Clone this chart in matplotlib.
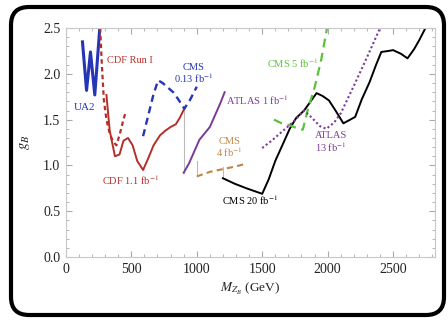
import matplotlib
matplotlib.use("Agg")
import matplotlib.pyplot as plt
from matplotlib.patches import FancyBboxPatch
from matplotlib.transforms import IdentityTransform
from matplotlib.ticker import MultipleLocator

plt.rcParams['font.family'] = ['Liberation Serif', 'DejaVu Serif']
plt.rcParams['mathtext.fontset'] = 'stix'

# limits on the baryonic Z_B coupling vs mass
ua2_m = [127, 158, 188, 221, 259]
ua2_g = [2.35, 1.82, 2.24, 1.77, 2.5]

cdf1_m = [262, 275, 290, 310, 335, 360, 387, 415, 440, 458]
cdf1_g = [2.5, 2.1, 1.72, 1.5, 1.35, 1.26, 1.22, 1.36, 1.5, 1.59]

cdf11_m = [310, 335, 375, 410, 440, 475, 510, 545, 590, 630, 670, 720, 760, 800, 840, 870, 905]
cdf11_g = [1.77, 1.38, 1.10, 1.12, 1.27, 1.30, 1.22, 1.05, 0.95, 1.08, 1.22, 1.33, 1.38, 1.42, 1.45, 1.52, 1.62]

cms013_m = [590, 630, 670, 705, 740, 780, 820, 860, 905, 950, 1000]
cms013_g = [1.32, 1.55, 1.78, 1.93, 1.90, 1.85, 1.80, 1.72, 1.62, 1.72, 1.86]

atlas1_m = [900, 940, 980, 1020, 1060, 1100, 1140, 1180, 1213]
atlas1_g = [0.92, 1.02, 1.15, 1.28, 1.35, 1.42, 1.55, 1.68, 1.80]

cms4_m = [1000, 1100, 1200, 1300, 1380]
cms4_g = [0.88, 0.93, 0.96, 0.99, 1.02]

cms20_m = [1200, 1290, 1380, 1500, 1550, 1600, 1660, 1710, 1760, 1820, 1870, 1915, 1960, 2010,
           2060, 2120, 2210, 2260, 2320, 2370, 2410, 2460, 2500, 2560, 2610, 2660, 2700, 2750]
cms20_g = [0.86, 0.80, 0.75, 0.69, 0.85, 1.05, 1.24, 1.40, 1.52, 1.60, 1.70, 1.79, 1.76, 1.71,
           1.60, 1.46, 1.53, 1.72, 1.91, 2.10, 2.24, 2.25, 2.26, 2.22, 2.17, 2.27, 2.37, 2.51]

cms5_m = [1590, 1650, 1710, 1760, 1810, 1850, 1900, 1950, 1995]
cms5_g = [1.50, 1.46, 1.44, 1.41, 1.39, 1.62, 1.85, 2.15, 2.5]

atlas13_m = [1500, 1580, 1660, 1740, 1820, 1880, 1940, 1990, 2050, 2100, 2200, 2300, 2400]
atlas13_g = [1.19, 1.28, 1.38, 1.48, 1.60, 1.52, 1.43, 1.40, 1.47, 1.57, 1.87, 2.18, 2.5]

# thin connectors where one limit hands over to the next
join_m = [905, 1000, 1200]
join_top = [1.62, 1.05, 0.98]
join_bot = [0.92, 0.88, 0.86]

blue = '#2535b5'
red = '#b3302a'
purple = '#7b3a98'
brown = '#c08545'
green = '#5cc23a'

fig = plt.figure(figsize=(4.48, 3.2), dpi=100)

# rounded black frame (pixel units), kept behind the axes
frame = FancyBboxPatch((11, 5), 433, 308, boxstyle="round,pad=0,rounding_size=18",
                       transform=IdentityTransform(), facecolor='white', edgecolor='black',
                       lw=3.0, zorder=-9)
fig.patches.append(frame)

ax = fig.add_axes([0.147, 0.197, 0.824, 0.715])
ax.set_facecolor('none')

for m, top, bot in zip(join_m, join_top, join_bot):
    ax.plot([m, m], [bot, top], color='#bbbbbb', lw=0.8)

ax.plot(ua2_m, ua2_g, color=blue, lw=2.2)
ax.plot(cdf1_m, cdf1_g, color=red, lw=1.6, dashes=(2, 1.5))
ax.plot(cdf11_m, cdf11_g, color=red, lw=1.4)
ax.plot(cms013_m, cms013_g, color=blue, lw=1.7, dashes=(3, 2))
ax.plot(atlas1_m, atlas1_g, color=purple, lw=1.4)
ax.plot(cms4_m, cms4_g, color=brown, lw=1.5, dashes=(3, 2))
ax.plot(cms20_m, cms20_g, color='black', lw=1.4)
ax.plot(cms5_m, cms5_g, color=green, lw=1.6, dashes=(4, 2.5))
ax.plot(atlas13_m, atlas13_g, color=purple, lw=1.5, dashes=(1, 1.2))

fs = 7.5
ax.text(145, 1.63, 'UA2', color=blue, fontsize=fs + 0.5, ha='center', va='center')
ax.text(313, 2.15, 'CDF Run I', color=red, fontsize=fs, ha='left', va='center')
ax.text(975, 2.0, 'CMS\n0.13 fb$^{-1}$', color=blue, fontsize=fs, ha='center', va='center',
        linespacing=1.0)
ax.text(1220, 1.71, 'ATLAS 1 fb$^{-1}$', color=purple, fontsize=fs, ha='left', va='center')
ax.text(1250, 1.19, 'CMS\n4 fb$^{-1}$', color=brown, fontsize=fs, ha='center', va='center',
        linespacing=1.0)
ax.text(1404, 0.62, 'CMS 20 fb$^{-1}$', color='black', fontsize=fs, ha='center', va='center')
ax.text(496, 0.84, 'CDF 1.1 fb$^{-1}$', color=red, fontsize=fs, ha='center', va='center')
ax.text(1732, 2.12, 'CMS 5 fb$^{-1}$', color=green, fontsize=fs, ha='center', va='center')
ax.text(2022, 1.25, 'ATLAS\n13 fb$^{-1}$', color=purple, fontsize=fs, ha='center', va='center',
        linespacing=1.0)

ax.set_xlim(0, 2820)
ax.set_ylim(0, 2.5)
ax.xaxis.set_major_locator(MultipleLocator(500))
ax.xaxis.set_minor_locator(MultipleLocator(100))
ax.yaxis.set_major_locator(MultipleLocator(0.5))
ax.yaxis.set_minor_locator(MultipleLocator(0.1))
ax.yaxis.set_major_formatter(plt.FormatStrFormatter('%.1f'))
ax.tick_params(which='both', direction='in', top=True, right=True, color='#aaaaaa',
               labelsize=10, labelcolor='#222222', pad=4)
ax.tick_params(which='major', length=4)
ax.tick_params(which='minor', length=2)
for s in ax.spines.values():
    s.set_color('#c8c8c8')

ax.set_xlabel('$M_{Z_B}$ (GeV)', fontsize=9.5, color='#222222', labelpad=4)
ax.set_ylabel('$g_B$', fontsize=10.5, color='#222222', labelpad=8)

fig.savefig('out.png', dpi=100)
